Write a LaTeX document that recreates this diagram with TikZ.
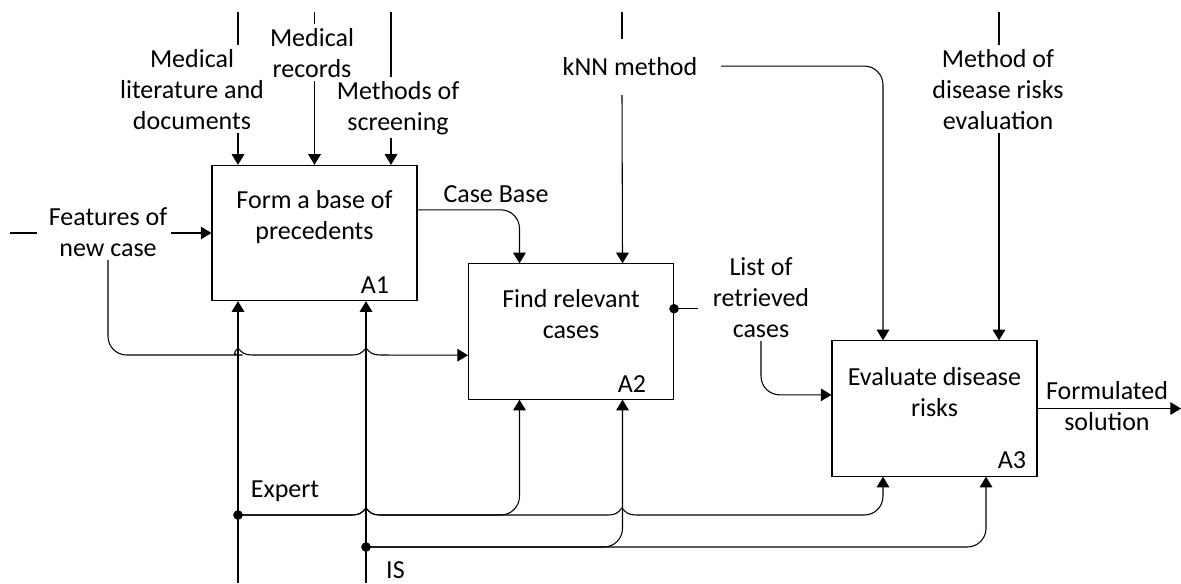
\documentclass[tikz,border=0pt]{standalone}
\usepackage{fontspec}
\setmainfont{Carlito}
\usetikzlibrary{arrows.meta,calc}
\begin{document}
\begin{tikzpicture}[x=0.75pt,y=-0.75pt, line width=0.8pt,
  lbl/.style={inner sep=2.5pt, align=center, font=\fontsize{19.5}{23.25}\selectfont},
  pbox/.style={draw, minimum width=153.75pt, minimum height=101.5pt, inner sep=0pt},
  arr/.style={-{Triangle[length=8pt,width=9.5pt]}},
  rc/.style={rounded corners=14pt}]
\useasboundingbox (0,0) rectangle (1181,583);

% boxes
\node[pbox] (A1) at (314.5,233) {};
\node[pbox] (A2) at (571,331.5) {};
\node[pbox] (A3) at (934.5,408.5) {};
\node[lbl,anchor=base] (t1) at ($(A1.north)+(0,75)$) {Form a base of\\precedents};
\node[lbl,anchor=base] (t2) at ($(A2.north)+(0,75)$) {Find relevant\\cases};
\node[lbl,anchor=base] (t3) at ($(A3.north)+(0,76)$) {Evaluate disease\\risks};
\node[lbl,anchor=base east] (n1) at (393,293) {A1};
\node[lbl,anchor=base east] (n2) at (650,392) {A2};
\node[lbl,anchor=base east] (n3) at (1030,468) {A3};

% labels (anchor base = last line)
\node[lbl,anchor=base] (lit) at (192,129) {Medical\\literature and\\documents};
\node[lbl,anchor=base] (rec) at (312,77) {Medical\\records};
\node[lbl,anchor=base] (scr) at (398,130) {Methods of\\screening};
\node[lbl,anchor=base] (feat) at (108,256) {Features of\\new case};
\node[lbl,anchor=base] (cb) at (496,202) {Case Base};
\node[lbl,anchor=base] (knn) at (630,75) {kNN method};
\node[lbl,anchor=base] (meth) at (998,129) {Method of\\disease risks\\evaluation};
\node[lbl,anchor=base] (list) at (761,337) {List of\\retrieved\\cases};
\node[lbl,anchor=base] (form) at (1107,430) {Formulated\\solution};
\node[lbl,anchor=base west] (expl) at (247,497) {Expert};
\node[lbl,anchor=base west,inner sep=0.5pt] (isl) at (385,578) {IS};

% coordinates for free ends
\coordinate (u1) at (238,12);
\coordinate (u2) at (314.5,12);
\coordinate (u3) at (391,12);
\coordinate (f0) at (10,233);
\coordinate (f1) at (37,233);
\coordinate (m1) at (238,583);
\coordinate (m2) at (366,583);
\coordinate (ex) at (238,515);
\coordinate (is) at (366,547);
\coordinate (k0) at (622,12);
\coordinate (k1) at (622,39);
\coordinate (k2) at (622,95);
\coordinate (md0) at (999,12);
\coordinate (out) at (1181,0);
\coordinate (ld) at ($(A2.north east)!0.333!(A2.south east)$);

% controls into A1
\draw (u1) -- (u1 |- lit.north);
\draw[arr] (u1 |- lit.south) -- (u1 |- A1.north);
\draw (u2) -- (u2 |- rec.north);
\draw[arr] (u2 |- rec.south) -- (u2 |- A1.north);
\draw (u3) -- (u3 |- scr.north);
\draw[arr] (u3 |- scr.south) -- (u3 |- A1.north);

% input features
\draw (f0) -- (f1);
\draw[arr] (feat.east |- A1.west) -- (A1.west);
\draw[arr] (feat.south) [rc] |- (224,355) [sharp corners]
  .. controls (231,355) and (234,353) .. (238,348)
  .. controls (242,353) and (245,355) .. (252,355) -- (352,355)
  .. controls (359,355) and (362,353) .. (366,348)
  .. controls (370,353) and (373,355) .. (380,355)
  -- ($(A2.north west)!0.674!(A2.south west)$);

% mechanisms of A1
\draw[arr] (m1) -- (m1 |- A1.south);
\draw[arr] (m2) -- (m2 |- A1.south);

% case base
\draw[arr] ($(A1.north east)!0.33!(A1.south east)$) [rc] -| ($(A2.north west)!0.25!(A2.north east)$);

% kNN
\draw (k0) -- (k1);
\draw[arr] (k2) -- ($(A2.north west)!0.75!(A2.north east)$);
\draw[arr] ([xshift=15pt]knn.east) [rc] -| ($(A3.north west)!0.25!(A3.north east)$);

% method of disease risks
\draw (md0) -- (md0 |- meth.north);
\draw[arr] (md0 |- meth.south) -- (md0 |- A3.north);

% list of retrieved cases
\fill (ld) circle (3.6pt);
\draw (ld) -- ++(24,0);
\draw[arr] (list.south) [rc] |- ($(A3.north west)!0.4!(A3.south west)$);

% output
\draw[arr] (A3.east) -- (A3.east -| out);

% expert
\fill (ex) circle (3.6pt);
\draw[arr] (ex) -- (352,515)
  .. controls (359,515) and (362,513) .. (366,508)
  .. controls (370,513) and (373,515) .. (380,515)
  [rc] -| ($(A2.south west)!0.25!(A2.south east)$);
\draw[arr] (ex) -- (352,515)
  .. controls (359,515) and (362,513) .. (366,508)
  .. controls (370,513) and (373,515) .. (380,515) -- (608,515)
  .. controls (615,515) and (618,513) .. (622,508)
  .. controls (626,513) and (629,515) .. (636,515)
  [rc] -| ($(A3.south west)!0.25!(A3.south east)$);

% IS
\fill (is) circle (3.6pt);
\draw[arr,rc] (is) -| ($(A2.south west)!0.75!(A2.south east)$);
\draw[arr,rc] (is) -| ($(A3.south west)!0.75!(A3.south east)$);
\end{tikzpicture}
\end{document}
